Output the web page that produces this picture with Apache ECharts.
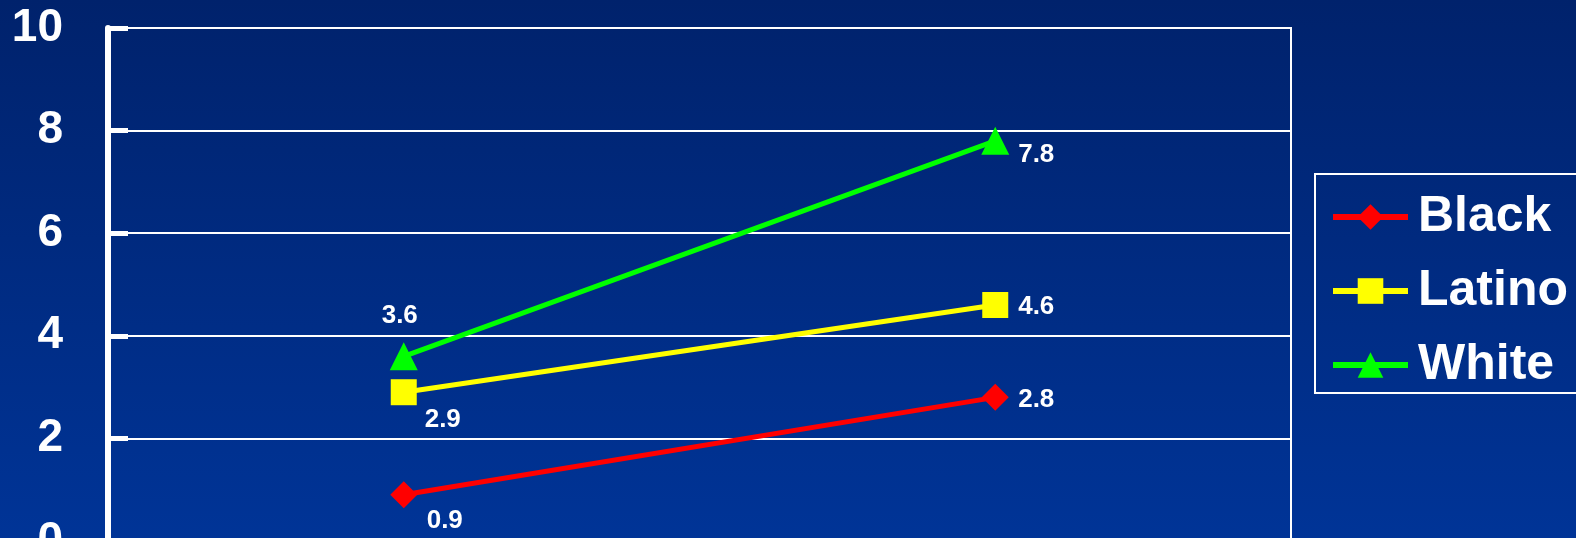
<!DOCTYPE html>
<html>
<head>
<meta charset="utf-8">
<style>
  html, body { margin: 0; padding: 0; }
  #chart { width: 1576px; height: 538px; }
</style>
<script src="https://cdn.jsdelivr.net/npm/echarts@6/dist/echarts.min.js"></script>
</head>
<body>
<div id="chart"></div>
<script>
const categories = ['Before', 'After'];
const black = [0.9, 2.8];
const latino = [2.9, 4.6];
const white = [3.6, 7.8];
const yTicks = [0, 2, 4, 6, 8, 10];

// label offsets (relative to the point) per series, per point
const blackOffsets = [[41, 26], [41, 2]];
const latinoOffsets = [[39, 28], [41, 2]];
const whiteOffsets = [[-4, -40], [41, 14]];

const FONT = '"Liberation Sans", Arial, sans-serif';

const withLabels = (values, offsets) => values.map((v, i) => ({
  value: v,
  label: { offset: offsets[i] }
}));

const makeSeries = (name, values, offsets, color, symbol, size) => ({
  name,
  type: 'line',
  data: withLabels(values, offsets),
  symbol,
  symbolSize: size,
  itemStyle: { color },
  lineStyle: { color, width: 5 },
  label: {
    show: true,
    position: 'inside',
    color: '#ffffff',
    fontFamily: FONT,
    fontWeight: 'bold',
    fontSize: 26
  },
  emphasis: { disabled: true },
  animation: false
});

const chart = echarts.init(document.getElementById('chart'));
chart.setOption({
  backgroundColor: new echarts.graphic.LinearGradient(0, 0, 0, 1, [
    { offset: 0, color: '#00226c' },
    { offset: 1, color: '#003497' }
  ]),
  textStyle: { fontFamily: FONT },
  grid: {
    left: 108, right: 285, top: 28, bottom: -3,
    containLabel: false,
    outerBoundsMode: 'none',
    show: true,
    borderColor: '#ffffff',
    borderWidth: 2,
    backgroundColor: 'transparent'
  },
  legend: {
    orient: 'vertical',
    left: 1315,
    top: 174,
    padding: [18, 30, 3, 15],
    borderColor: '#ffffff',
    borderWidth: 2,
    itemWidth: 75,
    itemHeight: 32,
    itemGap: 24,
    lineStyle: { width: 6 },
    textStyle: {
      color: '#ffffff',
      fontFamily: FONT,
      fontWeight: 'bold',
      fontSize: 50,
      padding: [0, 0, 0, 5]
    },
    data: ['Black', 'Latino', 'White']
  },
  xAxis: {
    type: 'category',
    data: categories,
    axisLine: { show: false },
    axisTick: { show: false },
    axisLabel: { show: false }
  },
  yAxis: {
    type: 'value',
    min: yTicks[0],
    max: yTicks[yTicks.length - 1],
    interval: 2,
    axisLine: { show: true, lineStyle: { color: '#ffffff', width: 6 } },
    axisTick: { show: true, inside: true, length: 20, lineStyle: { color: '#ffffff', width: 5 } },
    splitLine: { show: true, lineStyle: { color: '#ffffff', width: 2 } },
    axisLabel: {
      color: '#ffffff',
      fontFamily: FONT,
      fontWeight: 'bold',
      fontSize: 46,
      margin: 45
    }
  },
  series: [
    makeSeries('Black', black, blackOffsets, '#ff0000', 'diamond', 27),
    makeSeries('Latino', latino, latinoOffsets, '#ffff00', 'rect', 26),
    makeSeries('White', white, whiteOffsets, '#00ff00', 'triangle', 28)
  ]
});
</script>
</body>
</html>
